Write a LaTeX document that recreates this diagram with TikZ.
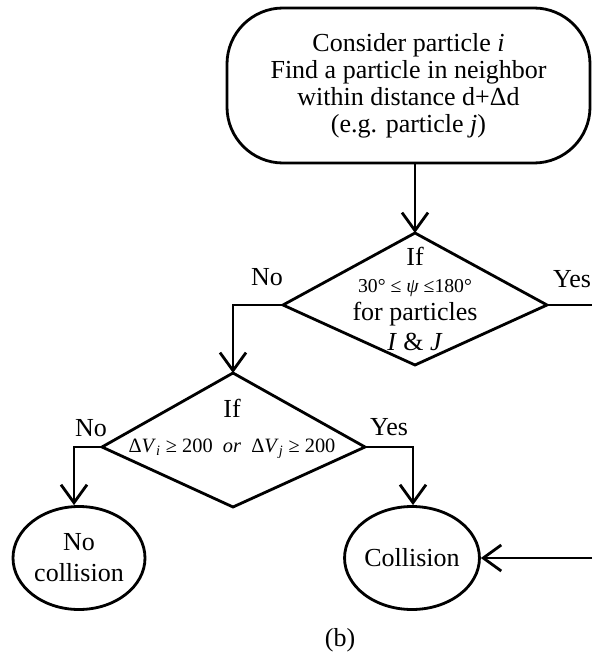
\documentclass[tikz,border=0pt]{standalone}
\usepackage{fontspec}
\setmainfont{Liberation Serif}
\usepackage{tikz}
\usetikzlibrary{positioning}
\usetikzlibrary{shapes.geometric}
\usetikzlibrary{arrows.meta}
\pgfdeclarelayer{nodelayer}
\pgfdeclarelayer{edgelayer}
\pgfsetlayers{nodelayer,edgelayer,main}
\tikzset{
    none/.style = {inner sep=0pt},
    word/.style = {inner sep=0pt, font=\fontsize{18.5}{19.5}\selectfont},
    terminal/.style = {draw, line width=2pt, rectangle, rounded corners=1.4cm, minimum width=9.075cm, minimum height=3.875cm, align=center, font=\fontsize{18.5}{19.3}\selectfont},
    endpoint/.style = {draw, line width=2pt, ellipse, minimum width=3.3cm, minimum height=2.575cm, inner sep=0pt, align=center, font=\fontsize{18.5}{22}\selectfont},
    plain/.style = {line width=2pt, line join=miter},
    flow/.style = {line width=2pt, -{Straight Barb[length=4.5mm,width=6.5mm]}}
}

\begin{document}
\begin{tikzpicture}
    \useasboundingbox (0, 0) rectangle (14.8, -16.4);
    \begin{pgfonlayer}{nodelayer}
        \node [style=terminal] (0) at (10.2125, -2.1375) {Consider particle \textit{i}\\Find a particle in neighbor\\within distance d+Δd\\(e.g. particle \textit{j})};
        \node [style=none] (1) at (10.375, -5.825) {};
        \node [style=none] (2) at (7.075, -7.625) {};
        \node [style=none] (3) at (13.675, -7.625) {};
        \node [style=none] (4) at (10.375, -9.125) {};
        \node [style=word, align=center] (5) at (10.375, -7.475) {If\\{\fontsize{14}{15}\selectfont 30° ≤ \textit{ψ} ≤180°}\\for particles\\[2pt]\textit{I} \& \textit{J}};
        \node [style=word] (6) at (6.675, -6.925) {No};
        \node [style=word] (7) at (14.3, -6.975) {Yes};
        \node [style=none] (8) at (5.825, -7.625) {};
        \node [style=none] (9) at (5.825, -9.325) {};
        \node [style=none] (10) at (2.55, -11.175) {};
        \node [style=none] (11) at (9.125, -11.175) {};
        \node [style=none] (12) at (5.825, -12.675) {};
        \node [style=word, align=center] (13) at (5.8, -10.725) {If\\[5pt]{\fontsize{14.5}{15}\selectfont Δ\textit{V}\textsubscript{\textit{i}} ≥ 200\ \ \textit{or}\ \ Δ\textit{V}\textsubscript{\textit{j}} ≥ 200}};
        \node [style=word] (14) at (2.275, -10.7) {No};
        \node [style=word] (15) at (9.725, -10.675) {Yes};
        \node [style=none] (16) at (1.85, -11.175) {};
        \node [style=none] (17) at (10.325, -11.175) {};
        \node [style=endpoint] (18) at (1.975, -13.95) {No\\collision};
        \node [style=endpoint] (19) at (10.3, -13.95) {Collision};
        \node [style=none] (20) at (14.8, -7.625) {};
        \node [style=none] (21) at (14.8, -13.95) {};
        \node [style=word] (22) at (8.5, -16.0) {(b)};
    \end{pgfonlayer}
    \begin{pgfonlayer}{edgelayer}
        \draw [style=flow] (0.south -| 1.center) to (1.center);
        \draw [style=plain] (1.center) -- (3.center) -- (4.center) -- (2.center) -- cycle;
        \draw [style=flow] (2.center) -- (8.center) -- (9.center);
        \draw [style=plain] (3.center) to (20.center);
        \draw [style=plain] (9.center) -- (11.center) -- (12.center) -- (10.center) -- cycle;
        \draw [style=flow] (10.center) -- (16.center) -- (16.center |- 18.north);
        \draw [style=flow] (11.center) -- (17.center) -- (17.center |- 19.north);
        % comes back from the Yes branch of the first test
        \draw [style=flow] (21.center) to (19.east);
    \end{pgfonlayer}
\end{tikzpicture}
\end{document}
